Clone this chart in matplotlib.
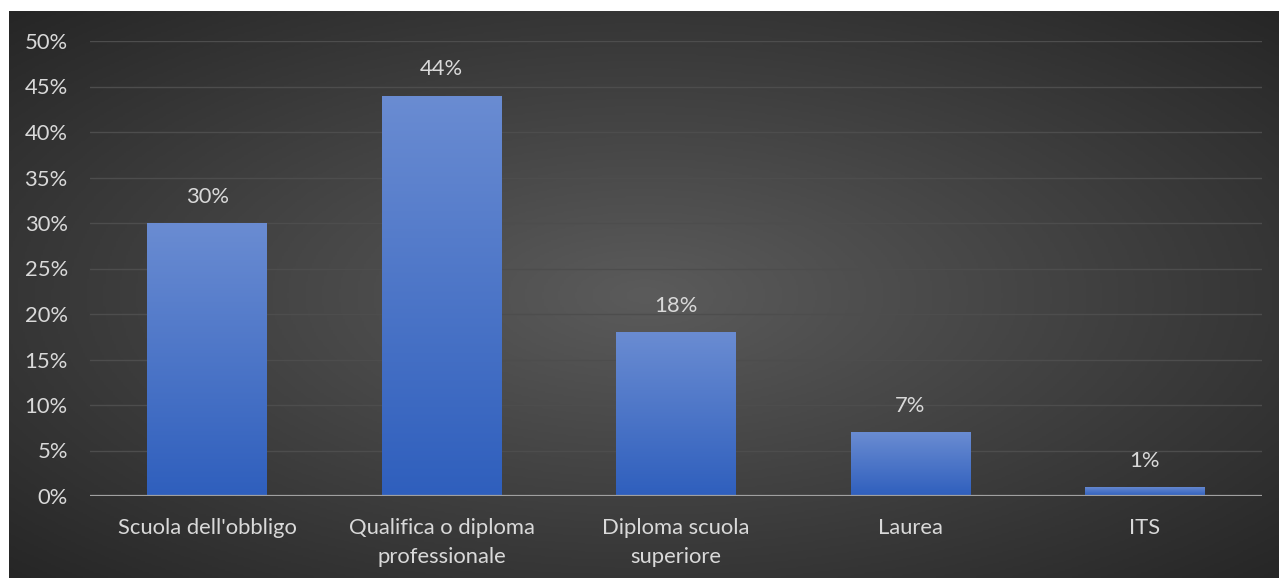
import numpy as np
import matplotlib.pyplot as plt
from matplotlib.colors import LinearSegmentedColormap

categories = ["Scuola dell'obbligo", "Qualifica o diploma\nprofessionale",
              "Diploma scuola\nsuperiore", "Laurea", "ITS"]
values = [30, 44, 18, 7, 1]
yticks = [0, 5, 10, 15, 20, 25, 30, 35, 40, 45, 50]

plt.rcParams['font.family'] = ['Lato', 'DejaVu Sans']
text_col = '#d9d9d9'
fs = 15.8

fig = plt.figure(figsize=(12.79, 5.78), dpi=100, facecolor='white')

# dark panel with a soft radial gradient
W, H = 1279, 578
bg = fig.add_axes([9 / W, 0, 1 - 9 / W, (H - 11) / H])
bg.set_axis_off()
yy, xx = np.mgrid[0:300, 0:600]
d = np.sqrt(((xx - 300) / 300) ** 2 + ((yy - 150) / 150) ** 2) / np.sqrt(2)
bg_cmap = LinearSegmentedColormap.from_list('bg', ['#5b5b5b', '#262626'])
bg.imshow(d, cmap=bg_cmap, aspect='auto', extent=[0, 1, 0, 1], vmin=0, vmax=1)
bg.set_xlim(0, 1)
bg.set_ylim(0, 1)

ax = fig.add_axes([90 / W, 82 / H, (1262 - 90) / W, 455 / H])
ax.patch.set_alpha(0)
x = np.arange(len(categories))
bars = ax.bar(x, values, width=0.51, color='#4472c4', zorder=2)

bar_cmap = LinearSegmentedColormap.from_list('bar', ['#2f5fbd', '#6a8cd2'])
grad = np.linspace(0, 1, 256).reshape(-1, 1)
for b in bars:
    x0, w, h = b.get_x(), b.get_width(), b.get_height()
    im = ax.imshow(grad, cmap=bar_cmap, origin='lower', aspect='auto',
                   extent=[x0, x0 + w, 0, h], zorder=3)
    im.set_clip_path(b)

for xi, v in zip(x, values):
    ax.annotate(f'{v}%', (xi, v), xytext=(0, 19), textcoords='offset points',
                ha='center', va='center', color=text_col, fontsize=fs)

ax.set_xlim(-0.5, len(categories) - 0.5)
ax.set_ylim(0, 50)
ax.set_yticks(yticks)
ax.set_yticklabels([f'{t}%' for t in yticks])
ax.set_xticks(x)
ax.set_xticklabels(categories, linespacing=1.55)
ax.tick_params(length=0, colors=text_col, labelsize=fs)
ax.tick_params(axis='y', pad=16)
ax.tick_params(axis='x', pad=16)
ax.grid(axis='y', color='#4d4d4d', lw=1, zorder=0)
ax.axhline(0, color='#a0a0a0', lw=1.6, zorder=4)
for s in ax.spines.values():
    s.set_visible(False)

fig.savefig('out.png', dpi=100, facecolor='white')
